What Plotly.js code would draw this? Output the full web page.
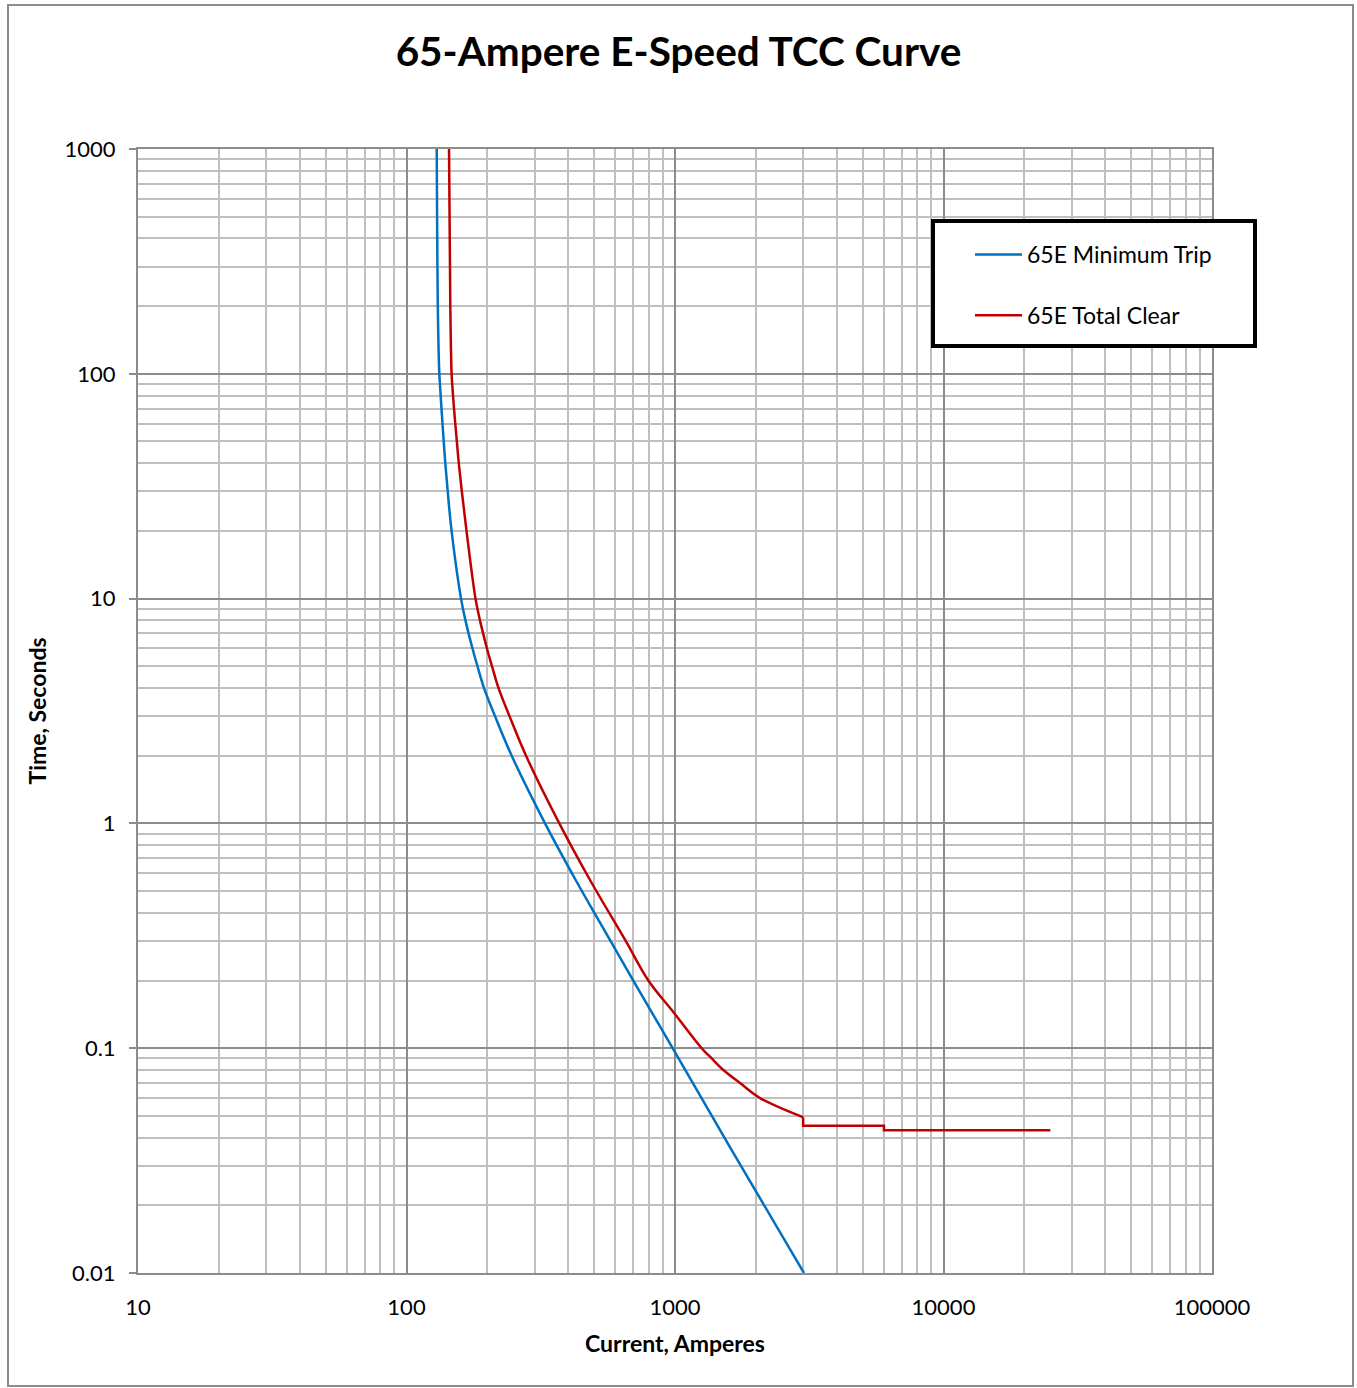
<!DOCTYPE html>
<html>
<head>
<meta charset="utf-8">
<script src="https://cdn.plot.ly/plotly-3.0.1.min.js"></script>
<style>
  html, body { margin: 0; padding: 0; background: #fff; }
  #chart { position: absolute; left: 0; top: 0; width: 1357px; height: 1388px; }
  #frame { position: absolute; left: 7px; top: 4px; width: 1343px; height: 1379px; border: 2px solid #8c8c8c; pointer-events: none; }
</style>
</head>
<body>
<div id="chart"></div>
<div id="frame"></div>
<script>
// 65E Minimum Trip (current in A, time in s)
const minTripCurrent = [129.6, 130.0, 130.8, 132.5, 133.2, 135.0, 137.6, 139.5, 142.4, 147.2, 159.6, 165.8, 176.1, 183.8, 194.4, 213.6, 246.5, 328.1, 426.6, 525.7, 699.4, 980, 1626, 3023];
const minTripTime    = [1000, 500, 200, 100, 90, 70, 50, 40, 30, 20, 10, 8, 6, 5, 4, 3, 2, 1, 0.56, 0.362, 0.2, 0.1, 0.0352, 0.01];

// 65E Total Clear (smooth part, then stepped part from 3000 A)
const totalClearCurrent = [144.0, 145.6, 147.2, 148.0, 150.3, 154.0, 156.6, 160.7, 167.3, 180.7, 187.8, 199.4, 208.2, 220.2, 241.9, 278.7, 370.8, 482.5, 655.4, 795.6, 994, 1257, 1370, 1514, 1746, 2073, 3000, 3000, 6000, 6000, 25000];
const totalClearTime    = [1000, 200, 100, 90, 70, 50, 40, 30, 20, 10, 8, 6, 5, 4, 3, 2, 1, 0.56, 0.3, 0.2, 0.143, 0.1, 0.09, 0.08, 0.07, 0.06, 0.0493, 0.0452, 0.0452, 0.0431, 0.0431];
const totalClearStepStart = 26; // index where the stepped section begins

const xTickVals = [10, 100, 1000, 10000, 100000];
const xTickText = ['10', '100', '1000', '10000', '100000'];
const yTickVals = [0.01, 0.1, 1, 10, 100, 1000];
const yTickText = ['0.01', '0.1', '1', '10', '100', '1000'];

const FONT = 'Lato, "Open Sans", sans-serif';
const BLUE = '#0070C0', RED = '#C00000';

const traces = [
  { x: minTripCurrent, y: minTripTime, type: 'scatter', mode: 'lines', name: '65E Minimum Trip',
    legendgroup: 'a', line: { color: BLUE, width: 2.5, shape: 'spline', smoothing: 1 } },
  { x: totalClearCurrent.slice(0, totalClearStepStart + 1), y: totalClearTime.slice(0, totalClearStepStart + 1),
    type: 'scatter', mode: 'lines', name: '65E Total Clear',
    legendgroup: 'b', line: { color: RED, width: 2.5, shape: 'spline', smoothing: 1 } },
  { x: totalClearCurrent.slice(totalClearStepStart), y: totalClearTime.slice(totalClearStepStart),
    type: 'scatter', mode: 'lines', name: '65E Total Clear', showlegend: false,
    legendgroup: 'b', line: { color: RED, width: 2.5 } }
];

const px = (v) => (v - 138) / 1074;        // page x -> paper x
const py = (v) => 1 - (v - 149) / 1124;    // page y -> paper y

const layout = {
  width: 1357, height: 1388,
  paper_bgcolor: 'rgba(0,0,0,0)', plot_bgcolor: '#fff',
  margin: { l: 138, r: 145, t: 149, b: 115 },
  font: { family: FONT, color: '#000', size: 22 },
  title: { text: '<b>65-Ampere E-Speed TCC Curve</b>', font: { family: FONT, size: 40.5, color: '#000' },
           x: 0.5, xanchor: 'center', y: 1 - 52/1388, yanchor: 'middle', yref: 'container' },
  xaxis: {
    type: 'log', range: [1, 5], tickvals: xTickVals, ticktext: xTickText,
    showgrid: true, gridcolor: '#8c8c8c', gridwidth: 2,
    minor: { dtick: 'D1', showgrid: true, gridcolor: '#bfbfbf', gridwidth: 2, ticks: '' },
    showline: true, linecolor: '#8c8c8c', linewidth: 2, mirror: true,
    ticks: '', tickfont: { size: 22, family: FONT }, ticklabelstandoff: 14,
    title: { text: '<b>Current, Amperes</b>', font: { size: 23, family: FONT }, standoff: 16 },
    zeroline: false, automargin: false
  },
  yaxis: {
    type: 'log', range: [-2, 3], tickvals: yTickVals, ticktext: yTickText,
    showgrid: true, gridcolor: '#8c8c8c', gridwidth: 2,
    minor: { dtick: 'D1', showgrid: true, gridcolor: '#bfbfbf', gridwidth: 2, ticks: '' },
    showline: true, linecolor: '#8c8c8c', linewidth: 2, mirror: true,
    ticks: 'outside', ticklen: 7, tickwidth: 2, tickcolor: '#8c8c8c',
    tickfont: { size: 22, family: FONT }, ticklabelstandoff: 9,
    title: { text: '<b>Time, Seconds</b>', font: { size: 23, family: FONT }, standoff: 12 },
    zeroline: false, automargin: false
  },
  shapes: [
    { type: 'rect', xref: 'paper', yref: 'paper', x0: px(933), x1: px(1255), y0: py(346), y1: py(221),
      fillcolor: '#fff', line: { color: '#000', width: 4 }, layer: 'above' }
  ],
  showlegend: true,
  legend: {
    x: px(970), y: py(233), xanchor: 'left', yanchor: 'top',
    bgcolor: 'rgba(0,0,0,0)', borderwidth: 0,
    font: { size: 23, family: FONT }, tracegroupgap: 28, itemwidth: 47,
    traceorder: 'grouped'
  }
};

Plotly.newPlot('chart', traces, layout, { displayModeBar: false, staticPlot: true });
</script>
</body>
</html>
